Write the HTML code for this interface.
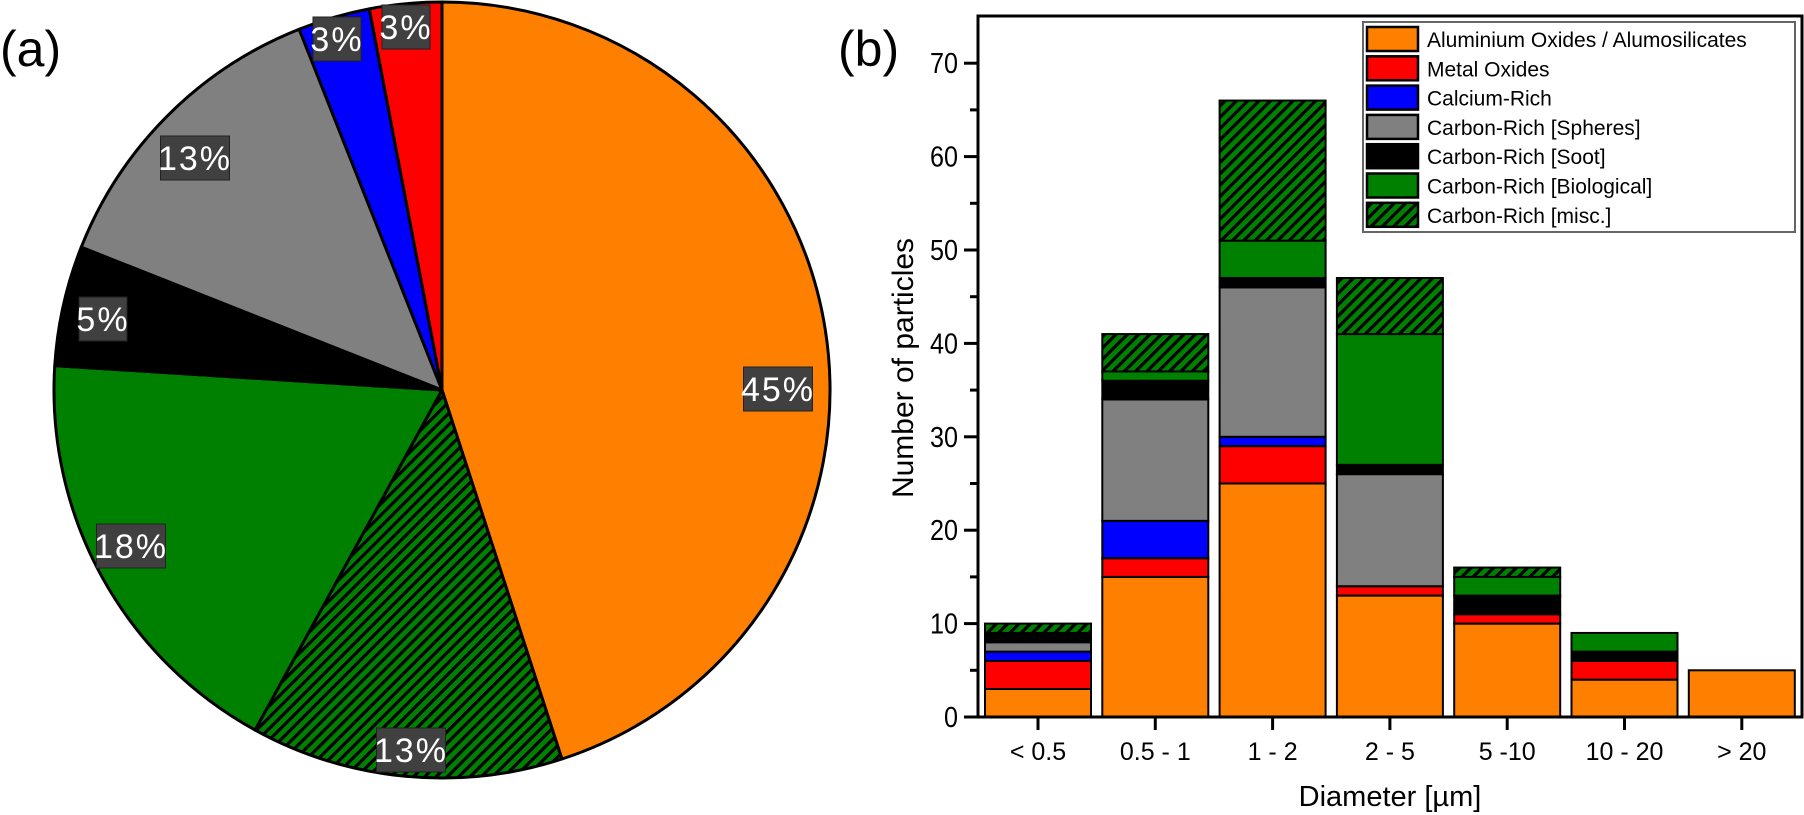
<!DOCTYPE html>
<html><head><meta charset="utf-8"><style>
html,body{margin:0;padding:0;background:#fff;}
svg{display:block;font-family:"Liberation Sans",Arial,sans-serif;}
</style></head><body>
<svg id="fig" width="1804" height="815" viewBox="0 0 1804 815" xmlns="http://www.w3.org/2000/svg">
<defs>
<pattern id="hatch" patternUnits="userSpaceOnUse" width="8" height="8" patternTransform="rotate(45)">
<rect width="8" height="8" fill="#008000"/>
<rect x="0" y="0" width="3.2" height="8" fill="#000"/>
</pattern>
</defs>
<g id="pie"></g>
<text x="0" y="66" font-size="50">(a)</text>
<text x="838" y="66" font-size="50">(b)</text>
<g id="bar"></g>
</svg>
<script>
const NS="http://www.w3.org/2000/svg";
function mk(tag,attrs,parent,txt){const e=document.createElementNS(NS,tag);for(const k in attrs)e.setAttribute(k,attrs[k]);if(txt!==undefined)e.textContent=txt;parent.appendChild(e);return e;}

// ---- data ----
const seriesNames=["Aluminium Oxides / Alumosilicates","Metal Oxides","Calcium-Rich","Carbon-Rich [Spheres]","Carbon-Rich [Soot]","Carbon-Rich [Biological]","Carbon-Rich [misc.]"];
const seriesColors=["#ff8000","#ff0000","#0000ff","#808080","#000000","#008000","url(#hatch)"];
const piePercents=[45,13,18,5,13,3,3];
const pieLabels=["45%","13%","18%","5%","13%","3%","3%"];
const pieOrder=[0,6,5,4,3,2,1];
const categories=["< 0.5","0.5 - 1","1 - 2","2 - 5","5 -10","10 - 20","> 20"];
const aluminium=[3,15,25,13,10,4,5];
const metalOx=[3,2,4,1,1,2,0];
const calcium=[1,4,1,0,0,0,0];
const spheres=[1,13,16,12,0,0,0];
const soot=[1,2,1,1,2,1,0];
const biological=[0,1,4,14,2,2,0];
const misc=[1,4,15,6,1,0,0];
const yTicks=[0,10,20,30,40,50,60,70];

// ---- pie ----
const pie=document.getElementById('pie');
const cx=442,cy=390,R=388;
const labelPos=[[778,389],[411,750],[131,546],[103,319],[195,158],[337,39],[406,27]];
let acc=0;
const total=piePercents.reduce((a,b)=>a+b,0);
piePercents.forEach((p,i)=>{
  const a0=acc/total*2*Math.PI; acc+=p; const a1=acc/total*2*Math.PI;
  const x0=cx+R*Math.sin(a0),y0=cy-R*Math.cos(a0),x1=cx+R*Math.sin(a1),y1=cy-R*Math.cos(a1);
  const large=(a1-a0)>Math.PI?1:0;
  const s=mk('path',{d:`M${cx},${cy} L${x0},${y0} A${R},${R} 0 ${large} 1 ${x1},${y1} Z`,fill:seriesColors[pieOrder[i]],stroke:"#000","stroke-width":3,"stroke-linejoin":"round"},pie);
  
  
});
piePercents.forEach((p,i)=>{
  const [lx,ly]=labelPos[i];
  const w=pieLabels[i].length*21+6;
  const g=mk('g',{},pie);
  
  
  mk('rect',{x:lx-w/2,y:ly-22,width:w,height:44,fill:"#404040",stroke:"#222","stroke-width":1},g);
  mk('text',{x:lx,y:ly+12,"font-size":34,fill:"#fff","text-anchor":"middle","letter-spacing":2},g,pieLabels[i]);
});

// ---- bars ----
const bar=document.getElementById('bar');
const L=978,T=16,Rr=1802,B=717;
const y0px=717,perUnit=9.34;
const Y=v=>y0px-v*perUnit;
const X=i=>1038+i*117.3;
const bw=106;
const stack=[aluminium,metalOx,calcium,spheres,soot,biological,misc];
categories.forEach((c,i)=>{
  let base=0;
  stack.forEach((arr,s)=>{
    const v=arr[i]; if(!v)return;
    const r=mk('rect',{x:X(i)-bw/2,y:Y(base+v),width:bw,height:v*perUnit,fill:seriesColors[s],stroke:"#000","stroke-width":2},bar);
    
    
    base+=v;
  });
});
// frame
const fr=mk('rect',{x:L,y:T,width:Rr-L,height:B-T,fill:"none",stroke:"#000","stroke-width":3},bar);


yTicks.forEach(t=>{
  mk('line',{x1:L-14,x2:L,y1:Y(t),y2:Y(t),stroke:"#000","stroke-width":3},bar);
  if(t<70) mk('line',{x1:L-8,x2:L,y1:Y(t+5),y2:Y(t+5),stroke:"#000","stroke-width":3},bar);
  const tl=mk('text',{x:L-20,y:Y(t)+10,"font-size":29,"text-anchor":"end",textLength:String(t).length*14,lengthAdjust:"spacingAndGlyphs"},bar,String(t));
  
  
});
categories.forEach((c,i)=>{
  mk('line',{x1:X(i),x2:X(i),y1:B,y2:B+13,stroke:"#000","stroke-width":3},bar);
  const tl=mk('text',{x:X(i),y:760,"font-size":25,"text-anchor":"middle"},bar,c);
  
  
});
const xt=mk('text',{x:1390,y:806,"font-size":29,"text-anchor":"middle"},bar,"Diameter [µm]");


const yt=mk('text',{x:0,y:0,"font-size":30,"text-anchor":"middle",transform:"translate(913,368) rotate(-90)"},bar,"Number of particles");


// legend
const lg=mk('g',{},bar);


mk('rect',{x:1363,y:22,width:432,height:210,fill:"#fff",stroke:"#666","stroke-width":2},lg);
seriesNames.forEach((n,s)=>{
  const cyL=39+s*29.3;
  const e=mk('g',{},lg);
  
  
  mk('rect',{x:1367,y:cyL-12,width:51,height:24,fill:seriesColors[s],stroke:"#000","stroke-width":2.5},e);
  mk('text',{x:1427,y:cyL+8,"font-size":21},e,n);
});
</script>
</body></html>
